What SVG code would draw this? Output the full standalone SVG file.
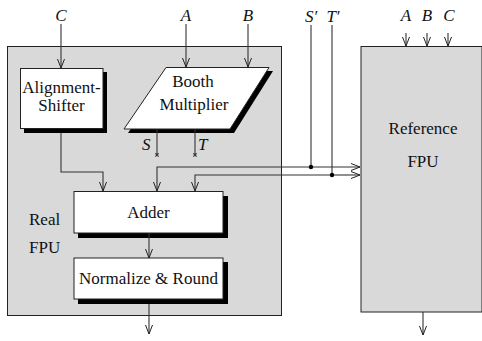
<svg xmlns="http://www.w3.org/2000/svg" width="482" height="341" viewBox="0 0 482 341" font-family="'Liberation Serif', 'DejaVu Serif', serif">
<style>
text{font-family:'Liberation Serif','DejaVu Serif',serif;font-size:17px;fill:#111}
.m{font-style:italic}
.c{text-anchor:middle}
.big{fill:#d9d9d9;stroke:#222;stroke-width:1}
.box{fill:#fff;stroke:#222;stroke-width:1}
.sh{fill:#000}
.ln{fill:none;stroke:#333;stroke-width:1.1}
</style>
<defs>
<marker id="ar" markerUnits="userSpaceOnUse" markerWidth="12" markerHeight="10" viewBox="-10 -5 12 10" refX="0" refY="0" orient="auto" overflow="visible">
<path d="M-9,-3.5 L0,0 L-9,3.5" fill="none" stroke="#222" stroke-width="1"/>
</marker>
</defs>
<g id="real-fpu">
<rect class="big" x="7.5" y="46.5" width="274" height="269"/>
<text x="29" y="225">Real</text>
<text x="29" y="253">FPU</text>
</g>
<g id="reference-fpu">
<rect class="big" x="361" y="46.5" width="121" height="265.5"/>
<text class="c" x="423" y="134">Reference</text>
<text class="c" x="423" y="167">FPU</text>
</g>
<g id="alignment-shifter">
<rect class="sh" x="24" y="72" width="83" height="61"/>
<rect class="box" x="20.5" y="68.5" width="82.5" height="60"/>
<text class="c" x="61.5" y="93">Alignment-</text>
<text class="c" x="61.5" y="111">Shifter</text>
</g>
<g id="booth-multiplier">
<polygon class="sh" points="170,71 273,71 234,133 128,133"/>
<polygon class="box" points="166,67.5 269,67.5 230,129 124,129"/>
<text class="c" x="193" y="87">Booth</text>
<text class="c" x="194" y="110">Multiplier</text>
</g>
<g id="adder">
<rect class="sh" x="78" y="196" width="150" height="42"/>
<rect class="box" x="74" y="191.5" width="149" height="41.5"/>
<text class="c" x="148.5" y="218">Adder</text>
</g>
<g id="normalize-round">
<rect class="sh" x="78" y="262" width="150" height="42"/>
<rect class="box" x="74" y="258" width="149" height="41"/>
<text class="c" x="148.5" y="284">Normalize &amp; Round</text>
</g>
<g id="labels">
<text class="m c" x="61" y="21">C</text>
<text class="m c" x="186" y="21">A</text>
<text class="m c" x="248" y="21">B</text>
<text class="m c" x="311" y="22">S′</text>
<text class="m c" x="333" y="22">T′</text>
<text class="m c" x="406" y="21">A</text>
<text class="m c" x="427" y="21">B</text>
<text class="m c" x="449" y="21">C</text>
<text class="m" x="142" y="150">S</text>
<text class="m" x="198" y="150">T</text>
</g>
<g id="connectors">
<path class="ln" d="M61,24 V68" marker-end="url(#ar)"/>
<path class="ln" d="M186,24 V67" marker-end="url(#ar)"/>
<path class="ln" d="M248,24 V67" marker-end="url(#ar)"/>
<path class="ln" d="M61,133 V172 H103 V191" marker-end="url(#ar)"/>
<path class="ln" d="M157,129 V155 M155.3,153.3 L158.7,156.7 M158.7,153.3 L155.3,156.7"/>
<path class="ln" d="M195,129 V155 M193.3,153.3 L196.7,156.7 M196.7,153.3 L193.3,156.7"/>
<path class="ln" d="M311,25 V167"/>
<path class="ln" d="M332,25 V175"/>
<path class="ln" d="M311,167 H157 V191" marker-end="url(#ar)"/>
<path class="ln" d="M311,167 H360" marker-end="url(#ar)"/>
<path class="ln" d="M332,175 H195 V191" marker-end="url(#ar)"/>
<path class="ln" d="M332,175 H360" marker-end="url(#ar)"/>
<circle cx="311" cy="167" r="2.2" fill="#000"/>
<circle cx="332" cy="175" r="2.2" fill="#000"/>
<path class="ln" d="M149,233 V258" marker-end="url(#ar)"/>
<path class="ln" d="M149,304 V334" marker-end="url(#ar)"/>
<path class="ln" d="M406,33 V46" marker-end="url(#ar)"/>
<path class="ln" d="M427,33 V46" marker-end="url(#ar)"/>
<path class="ln" d="M448,33 V46" marker-end="url(#ar)"/>
<path class="ln" d="M423,312 V335" marker-end="url(#ar)"/>
</g>
</svg>
